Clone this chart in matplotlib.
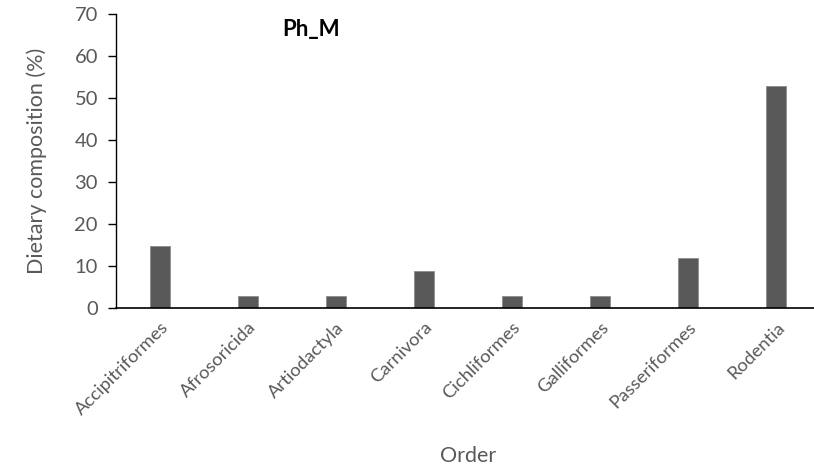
import matplotlib
matplotlib.use('Agg')
import matplotlib.pyplot as plt
import numpy as np

orders = ['Accipitriformes', 'Afrosoricida', 'Artiodactyla', 'Carnivora',
          'Cichliformes', 'Galliformes', 'Passeriformes', 'Rodentia']
composition = [14.7, 2.9, 2.9, 8.8, 2.9, 2.9, 11.8, 52.9]

plt.rcParams['font.family'] = ['Lato', 'DejaVu Sans']
grey = '#595959'

fig = plt.figure(figsize=(8.14, 4.66), dpi=100)
ax = fig.add_axes([0.1425, 0.339, 0.865, 0.631])

x = np.arange(len(orders))
ax.bar(x, composition, width=0.23, color=grey, edgecolor='#8c8c8c', linewidth=0.6)

ax.set_xlim(-0.5, len(orders) - 0.5)
ax.set_ylim(0, 70)
ax.set_yticks(np.arange(0, 71, 10))
ax.set_xticks(x)
ax.set_xticklabels(orders, rotation=45, ha='right', rotation_mode='anchor',
                   fontsize=13.3, color=grey)
ax.tick_params(axis='x', length=0, pad=8)
ax.tick_params(axis='y', length=6, width=1, colors='black', labelcolor=grey,
               labelsize=14.5, pad=7)

for s in ['top', 'right']:
    ax.spines[s].set_visible(False)
ax.spines['left'].set_linewidth(1.0)
ax.spines['bottom'].set_linewidth(1.2)

ax.set_ylabel('Dietary composition (%)', fontsize=15.5, color=grey, labelpad=20)
ax.set_xlabel('Order', fontsize=15.5, color=grey, labelpad=20)
ax.text(0.277, 0.946, 'Ph_M', transform=ax.transAxes, fontsize=16,
        fontweight='bold', ha='center', va='center', color='black')

fig.savefig('out.png', dpi=100)
